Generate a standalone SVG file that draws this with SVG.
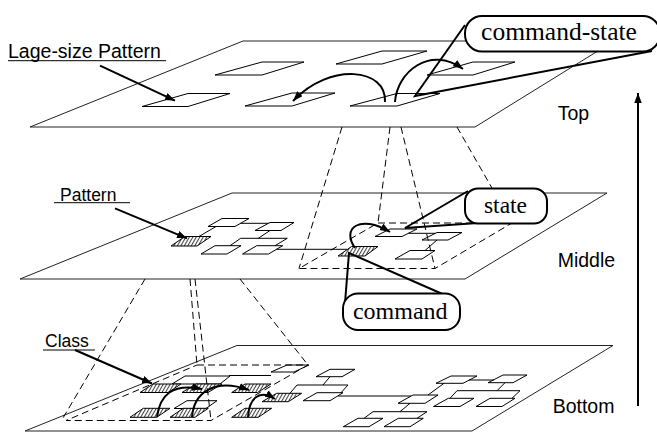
<svg xmlns="http://www.w3.org/2000/svg" width="657" height="433" viewBox="0 0 657 433">
<defs>
<marker id="ah" markerUnits="userSpaceOnUse" markerWidth="12" markerHeight="8" refX="10" refY="3.75" orient="auto"><path d="M0,0 L10,3.75 L0,7.5 z" fill="#000"/></marker>
<pattern id="hatch" patternUnits="userSpaceOnUse" width="3" height="3" patternTransform="rotate(30)"><rect width="3" height="3" fill="#fff"/><line x1="0.5" y1="0" x2="0.5" y2="3" stroke="#444" stroke-width="1.1"/></pattern>
<style>
.plane{fill:#fff;stroke:#222;stroke-width:1}
.box{fill:#fff;stroke:#000;stroke-width:1}
.hbox{fill:url(#hatch);stroke:#000;stroke-width:1}
.ln{fill:none;stroke:#000;stroke-width:1}
.dash{fill:none;stroke:#000;stroke-width:1;stroke-dasharray:7 4}
.arr{fill:none;stroke:#000;stroke-width:2;marker-end:url(#ah)}
.thick{fill:none;stroke:#000;stroke-width:2}
.call{fill:#fff;stroke:#000;stroke-width:2}
.sans{font-family:"Liberation Sans",Arial,sans-serif;fill:#000}
.serif{font-family:"Liberation Serif","Times New Roman",serif;fill:#000}
</style>
</defs>

<!-- planes -->
<g id="plane-bottom"><polygon class="plane" points="25,431 237,345.5 613,345.5 472,431"/></g>
<g id="plane-middle"><polygon class="plane" points="20,279 232,193 607,193 465,279"/></g>
<g id="plane-top"><polygon class="plane" points="30,127 243,41 614,41 475,127"/></g>

<!-- top layer nodes -->
<g id="top-A"><polygon class="box" points="142,106.5 188,93.5 230,93.5 188,106.5"/></g>
<g id="top-B"><polygon class="box" points="215,75 262,62 304,62 262,75"/></g>
<g id="top-C"><polygon class="box" points="245,106 292,93 335,93 292,106"/></g>
<g id="top-D"><polygon class="box" points="336,64 382,51 427,51 382,64"/></g>
<g id="top-E"><polygon class="box" points="427,75 473,62 515,62 473,75"/></g>
<g id="top-F"><polygon class="box" points="350,106 397,93.5 440,93.5 397,106"/></g>

<!-- middle layer nodes -->
<g id="mid-P"><polygon class="hbox" points="171,246 185,236.5 211,236.5 197,246"/></g>
<g id="mid-M1"><polygon class="box" points="208,226.5 222,218.5 249,218.5 235,226.5"/></g>
<g id="mid-M2"><polygon class="box" points="255,230.5 270,222.5 294,222.5 281,230.5"/></g>
<g id="mid-M3"><polygon class="box" points="201,254 215,245.7 241,245.7 227,254"/></g>
<g id="mid-M4"><polygon class="box" points="242.5,254 256.7,245.7 282.7,245.7 268.5,254"/></g>
<g id="mid-command"><polygon class="hbox" points="338,256 351.5,246.5 378,246.5 365,256"/></g>
<g id="mid-S1"><polygon class="box" points="375,236.5 390,229 417,229 402,236.5"/></g>
<g id="mid-S2"><polygon class="box" points="422,240 437,232.5 462,232.5 448,240"/></g>
<g id="mid-S3"><polygon class="box" points="395,259 410,250.5 435,250.5 422,259"/></g>

<!-- bottom layer nodes -->
<g id="bot-WA"><polygon class="box" points="172,384 185,376 230,376 220,384"/></g>
<g id="bot-WB"><polygon class="box" points="174,408.5 187,400.7 217,400.7 206,408.5"/></g>
<g id="bot-W1"><polygon class="box" points="271,372 287,365 309,365 294,372"/></g>
<g id="bot-W2"><polygon class="box" points="316,376.7 330,369.3 355,369.3 342,376.7"/></g>
<g id="bot-W3"><polygon class="box" points="303,400.7 317,392.7 343,392.7 330,400.7"/></g>
<g id="bot-H1"><polygon class="hbox" points="140,392.5 153,384 181,384 168,392.5"/></g>
<g id="bot-H2"><polygon class="hbox" points="182,392.5 196,384 222,384 208,392.5"/></g>
<g id="bot-H3"><polygon class="hbox" points="231.7,392.5 245,384 271,384 257.5,392.5"/></g>
<g id="bot-H4"><polygon class="hbox" points="262,401.7 276.7,393.3 301.7,393.3 288.3,401.7"/></g>
<g id="bot-H5"><polygon class="hbox" points="130,417.3 143.3,408.3 170,408.3 156.7,417.3"/></g>
<g id="bot-H6"><polygon class="hbox" points="170,417.3 183.3,408.3 208.3,408.3 195,417.3"/></g>
<g id="bot-H7"><polygon class="hbox" points="231.7,417.3 245,408.3 271.7,408.3 258.3,417.3"/></g>
<g id="bot-R1"><polygon class="box" points="436,383.3 451,376 477,376 463,383.3"/></g>
<g id="bot-R2"><polygon class="box" points="488,382.7 503,375 527,375 513,382.7"/></g>
<g id="bot-R3"><polygon class="box" points="398,403.3 413,395 438,395 425,403.3"/></g>
<g id="bot-R4"><polygon class="box" points="433.5,406.5 448.3,398.3 474,398.3 460,406.5"/></g>
<g id="bot-R5"><polygon class="box" points="476,406.5 490,398.3 515,398.3 502,406.5"/></g>
<g id="bot-R6"><polygon class="box" points="343.3,426.7 358,418.3 383,418.3 369,426.7"/></g>
<g id="bot-R7"><polygon class="box" points="384,426.7 398.3,418.3 423.3,418.3 410,426.7"/></g>

<!-- connectors -->
<g id="connectors">
  <!-- projection pyramids -->
  <polygon class="dash" points="378,223 512,223 435,268.5 299,268.5"/>
  <line class="dash" x1="342" y1="127" x2="299" y2="268.5"/>
  <line class="dash" x1="390" y1="127" x2="378" y2="223"/>
  <line class="dash" x1="401" y1="127" x2="435" y2="268.5"/>
  <line class="dash" x1="457" y1="127" x2="512" y2="223"/>
  <polygon class="dash" points="197,365 308,365 211,420.5 66,420.5"/>
  <line class="dash" x1="145" y1="279" x2="63" y2="418"/>
  <line class="dash" x1="190" y1="279" x2="197" y2="365"/>
  <line class="dash" x1="195" y1="279" x2="211" y2="420.5"/>
  <line class="dash" x1="240" y1="279" x2="308" y2="365"/>

  <!-- middle class diagram -->
  <line class="ln" x1="199" y1="236.5" x2="216" y2="226.5"/>
  <line class="ln" x1="240.6" y1="223.3" x2="268.5" y2="223.3"/>
  <line class="ln" x1="270" y1="230.5" x2="258.3" y2="238.3"/>
  <polyline class="ln" points="230,245.7 240.7,238.3 287.3,238.3 275,245.7"/>
  <line class="ln" x1="276.5" y1="249.3" x2="347" y2="249.3"/>
  <line class="ln" x1="408.4" y1="233.3" x2="435.4" y2="233.3"/>
  <line class="ln" x1="437" y1="240" x2="425" y2="250.5"/>

  <!-- bottom class diagram -->
  <line class="ln" x1="229" y1="375.5" x2="271" y2="375.5"/>
  <line class="ln" x1="330" y1="376.7" x2="323" y2="385"/>
  <polyline class="ln" points="290,393.3 297,385 348,385 341,392.7"/>
  <line class="ln" x1="338" y1="396" x2="411" y2="396"/>
  <line class="ln" x1="428" y1="395" x2="444" y2="383.3"/>
  <line class="ln" x1="469" y1="380" x2="494" y2="380"/>
  <line class="ln" x1="505" y1="382.7" x2="497" y2="390.7"/>
  <polyline class="ln" points="450,398.3 457,390.7 520,390.7 512,398.3"/>
  <line class="ln" x1="410" y1="403.3" x2="400" y2="411.7"/>
  <polyline class="ln" points="364,418.3 373,411.7 427,411.7 417,418.3"/>

  <!-- dependency arcs -->
  <path class="arr" d="M385,102 C387,68 330,62 293,101"/>
  <path class="arr" d="M395,102 C397,72 430,45 463,69"/>
  <path class="arr" d="M355,248 C341,228 360,214 390,232"/>
  <path class="arr" d="M157,417 C160,395 172,383 202,389"/>
  <path class="arr" d="M192,417 C194,392 215,378 249,390"/>
  <path class="arr" d="M248,417 C249,400 258,388 275,399"/>

  <!-- label arrows -->
  <line class="arr" x1="100" y1="65.7" x2="175" y2="100.7"/>
  <line class="arr" x1="115" y1="208.3" x2="187" y2="238.3"/>
  <line class="arr" x1="75" y1="350" x2="152" y2="383.5"/>
  <line class="arr" x1="638" y1="406" x2="638" y2="93"/>
</g>

<!-- callouts -->
<g id="callout-command-state">
  <polyline class="thick" points="465,25 415,96 652,51"/>
  <rect class="call" x="465" y="16" width="195" height="35.5" rx="17"/>
  <text class="serif" x="559" y="39.5" font-size="25.5" text-anchor="middle" font-family="Liberation Serif, Times New Roman, serif">command-state</text>
</g>
<g id="callout-state">
  <polyline class="thick" points="468,191 405,228 478,223"/>
  <rect class="call" x="465" y="188.5" width="82" height="35" rx="13"/>
  <text class="serif" x="505.5" y="213.3" font-size="23.5" text-anchor="middle" font-family="Liberation Serif, Times New Roman, serif">state</text>
</g>
<g id="callout-command">
  <polyline class="thick" points="345,303 349,253 447,296"/>
  <rect class="call" x="343" y="293.5" width="117" height="36.5" rx="15"/>
  <text class="serif" x="400.3" y="319" font-size="24" text-anchor="middle" font-family="Liberation Serif, Times New Roman, serif">command</text>
</g>

<!-- labels -->
<g id="label-large">
  <text class="sans" x="8" y="58" font-size="19.5">Lage-size Pattern</text>
  <line class="ln" x1="8" y1="60.7" x2="166" y2="60.7"/>
</g>
<g id="label-pattern">
  <text class="sans" x="60" y="200.5" font-size="17.5">Pattern</text>
  <line class="ln" x1="54" y1="202.7" x2="130" y2="202.7"/>
</g>
<g id="label-class">
  <text class="sans" x="45" y="346.7" font-size="17.5">Class</text>
  <line class="ln" x1="43" y1="350" x2="95" y2="350"/>
</g>
<g id="label-top"><text class="sans" x="557.7" y="120" font-size="19.5">Top</text></g>
<g id="label-middle"><text class="sans" x="557.7" y="266.7" font-size="19.5">Middle</text></g>
<g id="label-bottom"><text class="sans" x="552.7" y="413.3" font-size="19.5">Bottom</text></g>
</svg>
